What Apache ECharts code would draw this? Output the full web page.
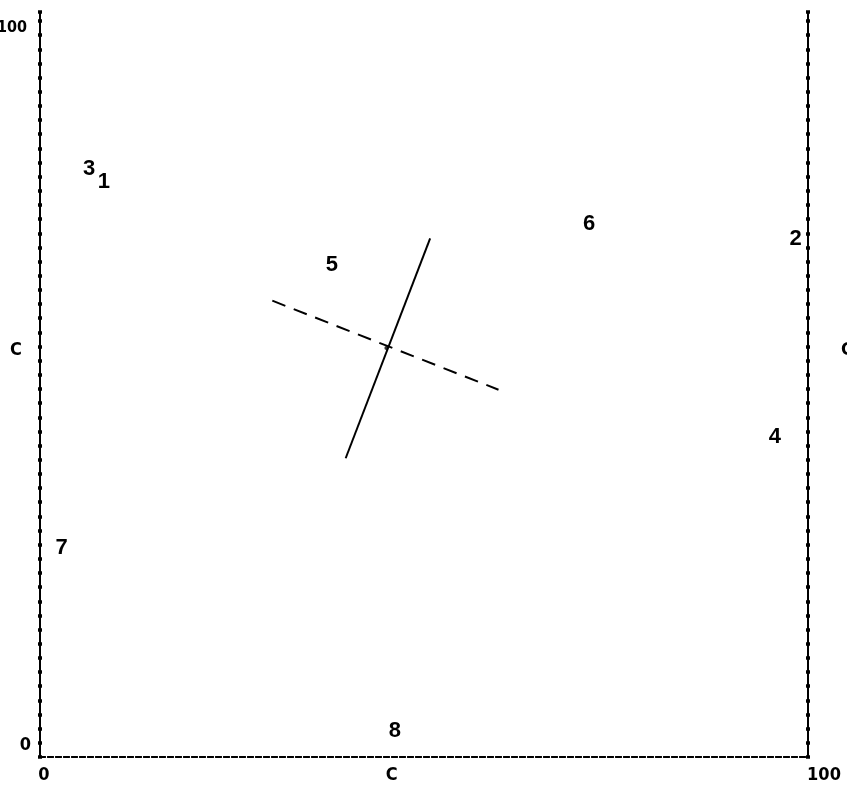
<!DOCTYPE html>
<html>
<head>
<meta charset="utf-8">
<script src="https://cdn.jsdelivr.net/npm/echarts@6/dist/echarts.min.js"></script>
<style>
html,body{margin:0;padding:0;background:#fff;}
#chart{width:847px;height:785px;}
</style>
</head>
<body>
<div id="chart"></div>
<script>
// ---- data ----
const pointLabels = ['1','2','3','4','5','6','7','8'];
const pointX = [8.3, 98.4, 6.4, 95.7, 38.0, 71.5, 2.8, 46.2];
const pointY = [77.2, 69.6, 79.0, 43.0, 66.0, 71.5, 28.1, 3.5];
const solidLine = [[50.8, 69.6], [39.8, 40.1]];
const dashedLine = [[30.25, 61.25], [59.7, 49.3]];
const centerPoint = [[45.1, 54.9]];
const xTickValues = [0.5, 45.8, 100];
const xTickTexts = ['0', 'C', '100'];
const yTickValues = [1.6, 54.6, 97.9];
const yTickTexts = ['0', 'C', '100'];
const rightTickValues = [54.6];
const rightTickTexts = ['C'];

const axisFont = {fontFamily: '"Liberation Sans Narrow","DejaVu Sans Condensed",sans-serif', fontSize: 18, fontWeight: 'bold', color: '#000'};
const pointFont = {fontFamily: '"Liberation Sans",Arial,sans-serif', fontSize: 22, fontWeight: 'bold', color: '#000', opacity: 1};

function lookup(vals, texts){
  return function(v){
    let best = 0, d = Infinity;
    vals.forEach((x,i)=>{ if(Math.abs(x-v)<d){d=Math.abs(x-v);best=i;} });
    return texts[best];
  };
}

const chart = echarts.init(document.getElementById('chart'), null, {renderer:'canvas'});
const frameLine = {show:true, lineStyle:{color:'#000', width:2}};
const dashedFrame = {show:true, lineStyle:{color:'#000', width:2, type:[5,3]}};
function yAx(pos, inside, labelCfg){
  return {
    type:'value', min:0, max:100, interval:1.9, position:pos,
    axisLine: frameLine,
    axisTick:{show:true, inside:inside, length:2, lineStyle:{color:'#000', width:3.5}},
    axisLabel: labelCfg || {show:false},
    splitLine:{show:false}
  };
}
const xf = lookup(xTickValues, xTickTexts);
const yf = lookup(yTickValues, yTickTexts);
chart.setOption({
  animation:false,
  backgroundColor:'#fff',
  grid:{left:40, right:39, top:12, bottom:28, containLabel:false, outerBoundsMode:'none'},
  xAxis:[
    {type:'value', min:0, max:100, position:'bottom', axisLine:dashedFrame, axisTick:{show:false}, splitLine:{show:false},
     axisLabel:{show:true, customValues:xTickValues, margin:9, ...axisFont,
       formatter:function(v){ const t = xf(v); return t==='100' ? '{r|100}' : t; },
       rich:{r:{...axisFont, padding:[0,0,0,32]}}}},
    {type:'value', min:0, max:100, position:'top', axisLine:dashedFrame, axisTick:{show:false}, axisLabel:{show:false}, splitLine:{show:false}}
  ],
  yAxis:[
    yAx('left', true, {show:true, customValues:yTickValues, margin:9, ...axisFont,
      formatter:function(v){ const t = yf(v); return t==='100' ? '{h|100}' : (t==='C' ? '{c|C}' : t); },
      rich:{h:{...axisFont, fontSize:16, padding:[0,4,0,0]}, c:{...axisFont, padding:[0,9,0,0]}}}),
    yAx('left', false, null),
    yAx('right', false, {show:true, customValues:rightTickValues, margin:33, ...axisFont, formatter:lookup(rightTickValues, rightTickTexts)}),
    yAx('right', true, null)
  ],
  series:[
    {type:'line', data:solidLine, symbol:'none', lineStyle:{color:'#000', width:2}, xAxisIndex:0, yAxisIndex:0},
    {type:'line', data:dashedLine, symbol:'none', lineStyle:{color:'#000', width:2, type:[14,9]}, xAxisIndex:0, yAxisIndex:0},
    {type:'scatter', data:centerPoint, symbolSize:4, itemStyle:{color:'#000'}, xAxisIndex:0, yAxisIndex:0},
    {type:'scatter', xAxisIndex:0, yAxisIndex:0, symbolSize:2, itemStyle:{color:'#fff', opacity:1},
     labelLayout:{hideOverlap:false},
     data: pointLabels.map((n,i)=>({name:n, value:[pointX[i], pointY[i]]})),
     label:{show:true, position:'inside', formatter:'{d|{b}}', textBorderWidth:0, ...pointFont,
       rich:{d:{...pointFont}}}}
  ]
});
</script>
</body>
</html>
